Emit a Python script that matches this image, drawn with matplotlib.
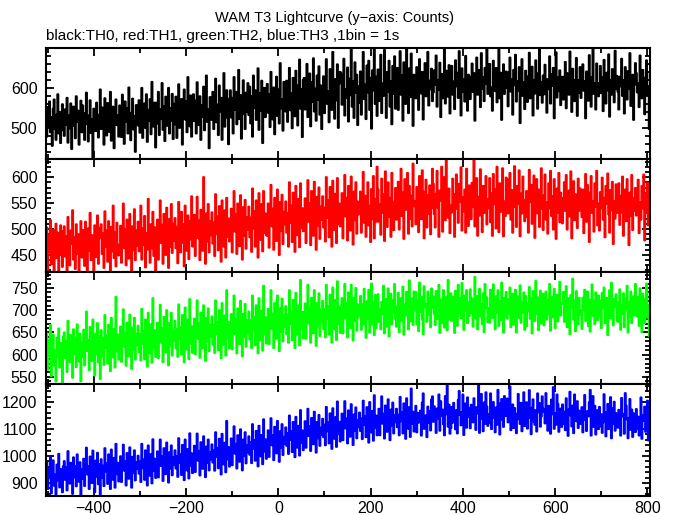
import numpy as np
import matplotlib
matplotlib.use("Agg")
import matplotlib.pyplot as plt
from matplotlib.ticker import MultipleLocator, FixedLocator

plt.rcParams['font.family'] = ['Liberation Sans', 'DejaVu Sans']

TITLE = "WAM T3 Lightcurve (y\u2212axis: Counts)"
SUBTITLE = "black:TH0, red:TH1, green:TH2, blue:TH3 ,1bin = 1s"
T_START = -504
BIN = 2

th0 = [
541, 478, 552, 503, 566, 489, 527, 455, 548, 571, 497, 470, 533, 584, 486, 540, 462, 519, 559, 494,
480, 546, 508, 575, 463, 532, 499, 561, 447, 524, 553, 505, 474, 579, 515, 543, 458, 530, 568, 489,
556, 495, 470, 537, 588, 510, 466, 531, 569, 487, 522, 425, 548, 514, 492, 563, 533, 476, 509, 596,
497, 551, 529, 458, 574, 515, 481, 562, 536, 490, 590, 468, 520, 553, 449, 541, 571, 507, 532, 478,
556, 504, 477, 583, 531, 460, 566, 515, 549, 486, 601, 512, 469, 538, 573, 496, 529, 440, 557, 521,
506, 569, 488, 540, 600, 475, 530, 561, 500, 584, 465, 545, 518, 572, 484, 615, 526, 503, 563, 451,
563, 511, 590, 482, 546, 522, 612, 495, 554, 467, 578, 530, 505, 600, 486, 549, 518, 585, 472, 560,
509, 578, 475, 557, 609, 500, 535, 572, 458, 547, 596, 521, 566, 489, 627, 533, 504, 581, 478, 562,
584, 517, 568, 486, 614, 538, 507, 579, 470, 556, 528, 603, 494, 565, 631, 515, 547, 449, 577, 535,
520, 590, 497, 569, 623, 514, 558, 482, 606, 541, 575, 470, 561, 637, 503, 538, 594, 525, 459, 573,
594, 526, 575, 486, 627, 545, 590, 509, 560, 645, 522, 582, 473, 551, 619, 535, 497, 588, 541, 612,
532, 603, 511, 579, 478, 631, 550, 594, 520, 566, 649, 495, 587, 543, 618, 462, 569, 600, 527, 592,
610, 538, 584, 502, 640, 557, 521, 601, 484, 575, 628, 530, 596, 511, 662, 549, 571, 493, 615, 545,
541, 618, 515, 593, 650, 544, 586, 499, 625, 578, 529, 643, 567, 506, 607, 671, 548, 597, 477, 620,
625, 546, 602, 660, 527, 583, 636, 504, 614, 565, 674, 541, 598, 518, 631, 570, 654, 533, 606, 497,
551, 629, 537, 610, 672, 560, 592, 514, 647, 586, 545, 690, 601, 523, 622, 569, 659, 500, 611, 640,
636, 558, 612, 673, 531, 597, 575, 651, 516, 623, 582, 697, 553, 617, 525, 664, 588, 633, 507, 604,
563, 641, 533, 619, 690, 572, 608, 522, 656, 589, 668, 545, 625, 498, 644, 594, 700, 560, 628, 530,
646, 567, 622, 683, 537, 611, 580, 695, 599, 525, 640, 590, 668, 553, 616, 509, 655, 585, 679, 548,
572, 650, 545, 625, 692, 583, 631, 518, 664, 600, 560, 700, 614, 537, 649, 577, 686, 606, 505, 633,
631, 574, 652, 598, 545, 672, 613, 586, 640, 521, 604, 662, 579, 625, 690, 556, 618, 597, 648, 567,
589, 644, 608, 681, 553, 620, 596, 663, 527, 635, 574, 612, 700, 561, 643, 599, 578, 657, 536, 622,
655, 583, 616, 547, 669, 604, 638, 575, 692, 612, 531, 649, 590, 621, 566, 680, 601, 543, 633, 610,
572, 628, 661, 590, 637, 518, 604, 676, 583, 645, 609, 552, 687, 598, 626, 567, 650, 611, 700, 585,
617, 660, 579, 601, 543, 668, 629, 592, 650, 564, 611, 696, 574, 638, 520, 622, 659, 585, 609, 641,
600, 554, 639, 676, 591, 621, 533, 645, 607, 683, 566, 617, 593, 652, 512, 628, 672, 580, 614, 547,
643, 596, 565, 629, 688, 574, 611, 653, 531, 620, 586, 669, 604, 548, 637, 700, 582, 615, 563, 631,
584, 658, 612, 538, 622, 597, 679, 561, 634, 605, 650, 524, 613, 689, 576, 626, 592, 644, 557, 609,
628, 571, 600, 665, 549, 637, 614, 583, 691, 596, 540, 648, 620, 567, 605, 675, 530, 619, 588, 652,
575, 633, 659, 593, 617, 524, 641, 600, 568, 682, 610, 553, 627, 697, 585, 612, 546, 661, 602, 579,
612, 655, 587, 626, 542, 670, 603, 561, 638, 594, 684, 528, 620, 583, 647, 609, 564, 693, 598, 630,
591, 546, 628, 604, 673, 580, 619, 536, 652, 606, 571, 642, 598, 687, 555, 614, 633, 520, 608, 662,
637, 589, 612, 552, 681, 598, 574, 645, 608, 534, 626, 669, 583, 604, 497, 640, 571, 616, 655, 593,
]

th1 = [
438, 503, 421, 489, 455, 517, 432, 476, 498, 412, 461, 510, 444, 493, 419, 481, 507, 450, 427, 496,
505, 447, 486, 415, 523, 460, 430, 497, 471, 536, 441, 484, 423, 509, 452, 490, 410, 466, 515, 445,
449, 498, 429, 514, 479, 414, 501, 458, 531, 440, 488, 466, 420, 507, 446, 493, 526, 433, 482, 502,
509, 452, 491, 425, 534, 466, 497, 437, 515, 473, 418, 504, 457, 545, 444, 494, 428, 512, 470, 449,
452, 506, 435, 493, 549, 463, 500, 430, 518, 475, 443, 529, 485, 418, 505, 459, 538, 440, 497, 467,
514, 457, 496, 545, 441, 501, 469, 525, 426, 492, 460, 558, 480, 435, 509, 463, 533, 448, 503, 415,
462, 518, 441, 500, 555, 473, 508, 433, 529, 485, 450, 541, 495, 425, 519, 466, 548, 454, 510, 477,
521, 463, 504, 434, 552, 487, 455, 533, 474, 509, 428, 545, 496, 458, 526, 442, 515, 480, 563, 466,
469, 527, 448, 509, 562, 482, 516, 440, 537, 494, 458, 600, 503, 433, 530, 476, 548, 455, 515, 488,
532, 472, 512, 448, 567, 490, 524, 459, 544, 498, 437, 555, 506, 466, 536, 445, 560, 485, 520, 476,
478, 539, 455, 517, 573, 495, 529, 452, 549, 505, 467, 565, 510, 441, 542, 487, 556, 462, 523, 499,
543, 484, 522, 456, 578, 501, 534, 466, 555, 509, 445, 569, 514, 479, 548, 457, 573, 493, 530, 488,
487, 549, 464, 526, 585, 505, 539, 460, 560, 517, 477, 576, 521, 450, 552, 497, 566, 471, 533, 509,
553, 493, 531, 466, 590, 512, 545, 475, 570, 522, 456, 583, 526, 488, 558, 465, 588, 502, 540, 496,
497, 559, 473, 536, 594, 514, 550, 469, 573, 527, 487, 591, 531, 460, 562, 507, 580, 481, 543, 518,
563, 503, 541, 476, 600, 522, 555, 484, 581, 532, 466, 593, 536, 498, 568, 473, 598, 510, 549, 505,
507, 569, 482, 546, 604, 524, 560, 478, 583, 537, 497, 601, 541, 470, 572, 517, 590, 491, 553, 528,
531, 572, 493, 550, 610, 512, 564, 485, 541, 590, 507, 545, 475, 577, 519, 602, 482, 558, 514, 620,
576, 514, 548, 489, 597, 531, 567, 477, 611, 544, 504, 590, 524, 560, 485, 608, 535, 498, 553, 579,
518, 556, 591, 499, 547, 616, 525, 570, 481, 596, 537, 551, 608, 491, 583, 520, 564, 505, 626, 544,
553, 509, 581, 536, 494, 602, 558, 519, 613, 572, 482, 549, 595, 503, 565, 529, 584, 490, 540, 616,
587, 529, 503, 568, 612, 541, 485, 574, 555, 620, 495, 551, 600, 517, 635, 560, 522, 578, 492, 545,
532, 597, 556, 485, 568, 605, 539, 512, 587, 552, 619, 497, 561, 534, 576, 493, 616, 547, 506, 584,
570, 519, 589, 543, 634, 505, 557, 598, 487, 562, 526, 615, 550, 494, 583, 531, 569, 602, 509, 557,
540, 598, 513, 569, 487, 606, 548, 576, 501, 620, 557, 494, 588, 533, 560, 617, 486, 553, 525, 599,
596, 530, 556, 608, 518, 575, 493, 561, 621, 542, 504, 583, 549, 613, 486, 568, 530, 601, 556, 515,
523, 573, 541, 493, 614, 552, 585, 510, 566, 603, 483, 550, 596, 530, 576, 504, 559, 617, 539, 498,
565, 605, 518, 551, 491, 588, 540, 612, 525, 563, 499, 596, 546, 481, 578, 532, 608, 513, 570, 550,
511, 560, 590, 535, 604, 499, 548, 574, 524, 611, 482, 556, 592, 517, 567, 541, 502, 597, 535, 578,
558, 523, 576, 492, 545, 606, 514, 585, 539, 475, 570, 602, 531, 554, 495, 588, 543, 612, 507, 549,
497, 571, 540, 599, 518, 560, 484, 583, 549, 607, 528, 493, 575, 536, 591, 471, 554, 520, 586, 531,
545, 588, 508, 564, 532, 601, 487, 552, 576, 515, 596, 541, 469, 570, 526, 604, 498, 559, 535, 579,
526, 561, 595, 492, 551, 518, 583, 540, 605, 478, 566, 532, 589, 507, 547, 573, 486, 560, 538, 574,
]

th2 = [
585, 648, 566, 633, 598, 667, 552, 621, 645, 576, 609, 540, 638, 594, 659, 571, 626, 590, 536, 640,
650, 592, 631, 561, 676, 609, 583, 644, 620, 548, 657, 601, 637, 572, 668, 613, 585, 647, 540, 627,
595, 656, 576, 640, 697, 608, 633, 565, 662, 616, 586, 679, 625, 553, 647, 601, 671, 583, 642, 545,
655, 599, 636, 577, 689, 616, 643, 580, 667, 624, 563, 683, 630, 594, 658, 571, 730, 608, 645, 589,
601, 663, 584, 643, 702, 618, 649, 575, 672, 630, 597, 690, 636, 568, 661, 612, 683, 589, 647, 622,
665, 606, 646, 587, 703, 625, 653, 590, 679, 634, 573, 694, 639, 603, 668, 582, 727, 617, 655, 595,
609, 672, 592, 654, 712, 627, 660, 583, 685, 638, 605, 700, 645, 576, 671, 620, 694, 598, 656, 631,
676, 614, 657, 595, 713, 636, 662, 601, 689, 644, 583, 706, 649, 612, 679, 590, 725, 625, 664, 604,
619, 681, 601, 664, 722, 636, 670, 593, 694, 647, 614, 711, 655, 586, 682, 630, 704, 608, 667, 641,
686, 623, 667, 604, 722, 646, 674, 610, 700, 654, 592, 716, 659, 622, 688, 598, 745, 635, 673, 614,
629, 691, 612, 674, 733, 646, 680, 603, 704, 657, 624, 721, 665, 596, 692, 640, 714, 618, 677, 650,
697, 634, 678, 615, 733, 657, 685, 621, 711, 665, 603, 727, 670, 633, 699, 609, 755, 646, 684, 625,
641, 703, 624, 686, 745, 658, 692, 615, 716, 669, 636, 733, 677, 608, 704, 652, 726, 630, 689, 662,
709, 646, 690, 627, 745, 669, 697, 633, 723, 677, 615, 739, 682, 645, 711, 621, 768, 658, 696, 637,
653, 715, 636, 698, 757, 670, 704, 627, 728, 681, 648, 745, 689, 620, 716, 664, 738, 642, 701, 674,
721, 658, 702, 639, 757, 681, 709, 645, 735, 689, 627, 751, 694, 657, 723, 633, 765, 670, 708, 649,
665, 727, 648, 710, 759, 682, 716, 639, 740, 693, 660, 757, 701, 632, 728, 676, 750, 654, 713, 686,
692, 732, 656, 713, 669, 748, 700, 638, 720, 681, 746, 650, 705, 760, 668, 719, 644, 734, 660, 711,
736, 674, 702, 657, 719, 691, 755, 648, 725, 663, 710, 749, 641, 685, 737, 669, 722, 695, 759, 680,
663, 707, 739, 651, 699, 727, 676, 753, 645, 712, 688, 741, 720, 657, 767, 675, 701, 726, 667, 742,
700, 741, 668, 724, 653, 762, 696, 730, 679, 646, 754, 715, 707, 674, 742, 690, 727, 662, 749, 705,
731, 692, 667, 743, 711, 680, 757, 649, 724, 703, 671, 745, 661, 716, 730, 655, 768, 696, 679, 738,
676, 730, 703, 649, 744, 718, 665, 757, 693, 727, 682, 761, 710, 656, 733, 699, 745, 671, 718, 687,
747, 694, 726, 663, 705, 775, 681, 732, 657, 718, 748, 686, 713, 669, 738, 651, 759, 705, 729, 673,
704, 672, 746, 719, 683, 758, 700, 657, 731, 694, 745, 665, 719, 678, 762, 710, 650, 728, 686, 741,
681, 725, 693, 751, 662, 717, 737, 668, 704, 746, 650, 731, 712, 683, 756, 672, 718, 695, 740, 656,
732, 664, 715, 698, 752, 681, 726, 648, 743, 709, 676, 766, 692, 729, 655, 714, 744, 670, 702, 737,
666, 710, 742, 679, 723, 691, 759, 654, 730, 715, 684, 748, 660, 703, 735, 675, 719, 764, 688, 716,
715, 741, 674, 703, 754, 662, 727, 690, 646, 734, 707, 771, 679, 722, 653, 743, 696, 668, 728, 700,
689, 658, 728, 700, 746, 676, 713, 742, 664, 724, 652, 708, 758, 687, 721, 669, 740, 697, 678, 733,
722, 687, 660, 739, 705, 751, 671, 694, 728, 644, 713, 745, 682, 762, 698, 666, 725, 708, 736, 677,
674, 718, 747, 656, 711, 691, 738, 662, 726, 700, 755, 650, 719, 685, 742, 671, 703, 731, 688, 759,
708, 686, 730, 665, 749, 720, 651, 737, 696, 671, 726, 760, 684, 712, 642, 745, 699, 723, 669, 692,
]

th3 = [
905, 977, 878, 955, 918, 999, 862, 943, 984, 890, 931, 855, 968, 910, 1008, 884, 952, 922, 866, 962,
981, 912, 958, 873, 1018, 930, 898, 975, 945, 860, 995, 921, 962, 888, 1006, 938, 905, 977, 852, 950,
916, 990, 889, 967, 1031, 932, 962, 878, 998, 942, 900, 1020, 952, 866, 983, 924, 1012, 896, 970, 858,
988, 920, 964, 889, 1029, 943, 973, 897, 1006, 952, 878, 1024, 957, 912, 993, 883, 1045, 933, 975, 906,
927, 999, 904, 974, 1042, 946, 981, 891, 1011, 959, 916, 1032, 965, 883, 997, 937, 1021, 910, 977, 952,
1001, 935, 979, 904, 1045, 955, 987, 912, 1021, 967, 891, 1039, 971, 927, 1007, 899, 1062, 946, 990, 919,
944, 1017, 921, 991, 1061, 963, 998, 908, 1029, 975, 933, 1050, 982, 902, 1014, 954, 1039, 929, 995, 968,
1021, 954, 1000, 923, 1066, 975, 1007, 930, 1041, 986, 911, 1061, 990, 947, 1026, 917, 1084, 965, 1010, 937,
963, 1038, 941, 1012, 1083, 983, 1019, 928, 1051, 996, 953, 1073, 1003, 922, 1035, 975, 1061, 947, 1014, 988,
1043, 976, 1022, 946, 1088, 998, 1030, 955, 1064, 1009, 932, 1082, 1014, 969, 1049, 940, 1130, 988, 1033, 961,
989, 1065, 966, 1039, 1110, 1009, 1045, 954, 1077, 1022, 979, 1099, 1029, 947, 1061, 1001, 1088, 973, 1041, 1014,
1073, 1005, 1051, 974, 1118, 1027, 1059, 983, 1093, 1038, 962, 1112, 1043, 999, 1078, 970, 1136, 1017, 1062, 990,
1020, 1095, 997, 1069, 1140, 1040, 1076, 985, 1108, 1053, 1010, 1130, 1060, 979, 1092, 1032, 1118, 1004, 1071, 1045,
1106, 1038, 1084, 1008, 1150, 1060, 1092, 1015, 1126, 1071, 996, 1145, 1076, 1031, 1112, 1002, 1170, 1050, 1095, 1022,
1054, 1129, 1031, 1103, 1175, 1074, 1111, 1019, 1141, 1087, 1044, 1164, 1094, 1013, 1126, 1066, 1152, 1038, 1105, 1079,
1138, 1070, 1116, 1040, 1182, 1092, 1124, 1047, 1158, 1103, 1027, 1177, 1108, 1064, 1144, 1034, 1202, 1082, 1127, 1054,
1082, 1157, 1059, 1131, 1203, 1102, 1139, 1047, 1169, 1115, 1072, 1192, 1122, 1041, 1154, 1094, 1180, 1066, 1133, 1107,
1161, 1093, 1139, 1063, 1205, 1115, 1147, 1070, 1181, 1126, 1050, 1200, 1131, 1087, 1167, 1057, 1225, 1105, 1150, 1077,
1100, 1175, 1077, 1149, 1221, 1120, 1157, 1065, 1187, 1133, 1090, 1210, 1140, 1059, 1172, 1112, 1198, 1084, 1151, 1125,
1175, 1107, 1153, 1077, 1219, 1129, 1161, 1084, 1195, 1140, 1064, 1214, 1145, 1101, 1181, 1071, 1250, 1119, 1164, 1091,
1111, 1186, 1088, 1160, 1124, 1131, 1168, 1076, 1198, 1232, 1101, 1144, 1151, 1070, 1183, 1123, 1166, 1095, 1209, 1221,
1127, 1184, 1163, 1086, 1176, 1138, 1228, 1094, 1203, 1150, 1172, 1118, 1077, 1222, 1155, 1262, 1109, 1190, 1083, 1104,
1182, 1124, 1197, 1140, 1099, 1170, 1084, 1208, 1241, 1152, 1114, 1163, 1228, 1078, 1133, 1195, 1105, 1217, 1146, 1178,
1103, 1190, 1144, 1125, 1214, 1170, 1097, 1181, 1158, 1267, 1086, 1137, 1230, 1162, 1092, 1198, 1119, 1236, 1183, 1112,
1155, 1123, 1232, 1100, 1171, 1200, 1141, 1088, 1180, 1116, 1245, 1163, 1080, 1196, 1211, 1134, 1108, 1222, 1148, 1177,
1213, 1125, 1166, 1258, 1096, 1143, 1191, 1104, 1178, 1157, 1085, 1136, 1230, 1162, 1119, 1197, 1092, 1181, 1236, 1111,
1136, 1199, 1102, 1155, 1244, 1142, 1081, 1179, 1210, 1127, 1116, 1170, 1091, 1232, 1162, 1196, 1109, 1147, 1221, 1175,
1164, 1121, 1233, 1141, 1094, 1186, 1172, 1083, 1209, 1155, 1255, 1101, 1158, 1116, 1228, 1193, 1090, 1133, 1176, 1108,
1191, 1120, 1164, 1096, 1214, 1138, 1075, 1173, 1238, 1150, 1110, 1187, 1085, 1228, 1157, 1129, 1203, 1104, 1168, 1142,
1119, 1181, 1088, 1158, 1226, 1133, 1093, 1166, 1147, 1199, 1245, 1076, 1151, 1222, 1108, 1186, 1080, 1125, 1170, 1100,
1182, 1110, 1155, 1086, 1125, 1229, 1163, 1073, 1139, 1193, 1100, 1148, 1218, 1066, 1118, 1177, 1201, 1094, 1159, 1131,
1105, 1171, 1123, 1076, 1215, 1147, 1156, 1083, 1233, 1186, 1136, 1066, 1141, 1211, 1097, 1172, 1071, 1158, 1115, 1089,
1174, 1100, 1146, 1076, 1116, 1217, 1064, 1152, 1131, 1183, 1090, 1137, 1205, 1058, 1108, 1169, 1084, 1149, 1030, 1125,
]

series = [th0, th1, th2, th3]
colors = ["#000000", "#ff0000", "#00ff00", "#0000ff"]
ylims = [(422, 700), (417, 635), (534, 786), (852, 1267)]
major_ticks = [[500, 600], [450, 500, 550, 600], [550, 600, 650, 700, 750], [900, 1000, 1100, 1200]]
minor_steps = [20, 10, 10, 20]

fig = plt.figure(figsize=(6.74, 5.15), dpi=100)
left, width = 0.068, 0.896
edges = [0.9068, 0.6913, 0.4718, 0.2544, 0.0369]

for i in range(4):
    bottom = edges[i + 1]
    height = edges[i] - edges[i + 1]
    ax = fig.add_axes([left, bottom, width, height])
    vals = np.asarray(series[i], dtype=float)
    t = T_START + BIN * np.arange(len(vals))
    ax.plot(t, vals, color=colors[i], linewidth=1.5, drawstyle='steps-mid')
    ax.set_xlim(-504, 805)
    ax.set_ylim(*ylims[i])
    ax.yaxis.set_major_locator(FixedLocator(major_ticks[i]))
    ax.yaxis.set_minor_locator(MultipleLocator(minor_steps[i]))
    ax.xaxis.set_major_locator(MultipleLocator(200))
    ax.xaxis.set_minor_locator(MultipleLocator(100))
    ax.tick_params(which='both', direction='in', top=True, right=True, width=1.3, labelsize=11.5)
    ax.tick_params(which='major', length=6)
    ax.tick_params(which='minor', length=3.5)
    ax.tick_params(axis='y', pad=6)
    for sp in ax.spines.values():
        sp.set_linewidth(1.5)
    if i < 3:
        ax.tick_params(labelbottom=False)

fig.text(0.497, 0.966, TITLE, ha='center', va='center', fontsize=10.5)
fig.text(0.068, 0.930, SUBTITLE, ha='left', va='center', fontsize=11)

fig.savefig("out.png", dpi=100)
